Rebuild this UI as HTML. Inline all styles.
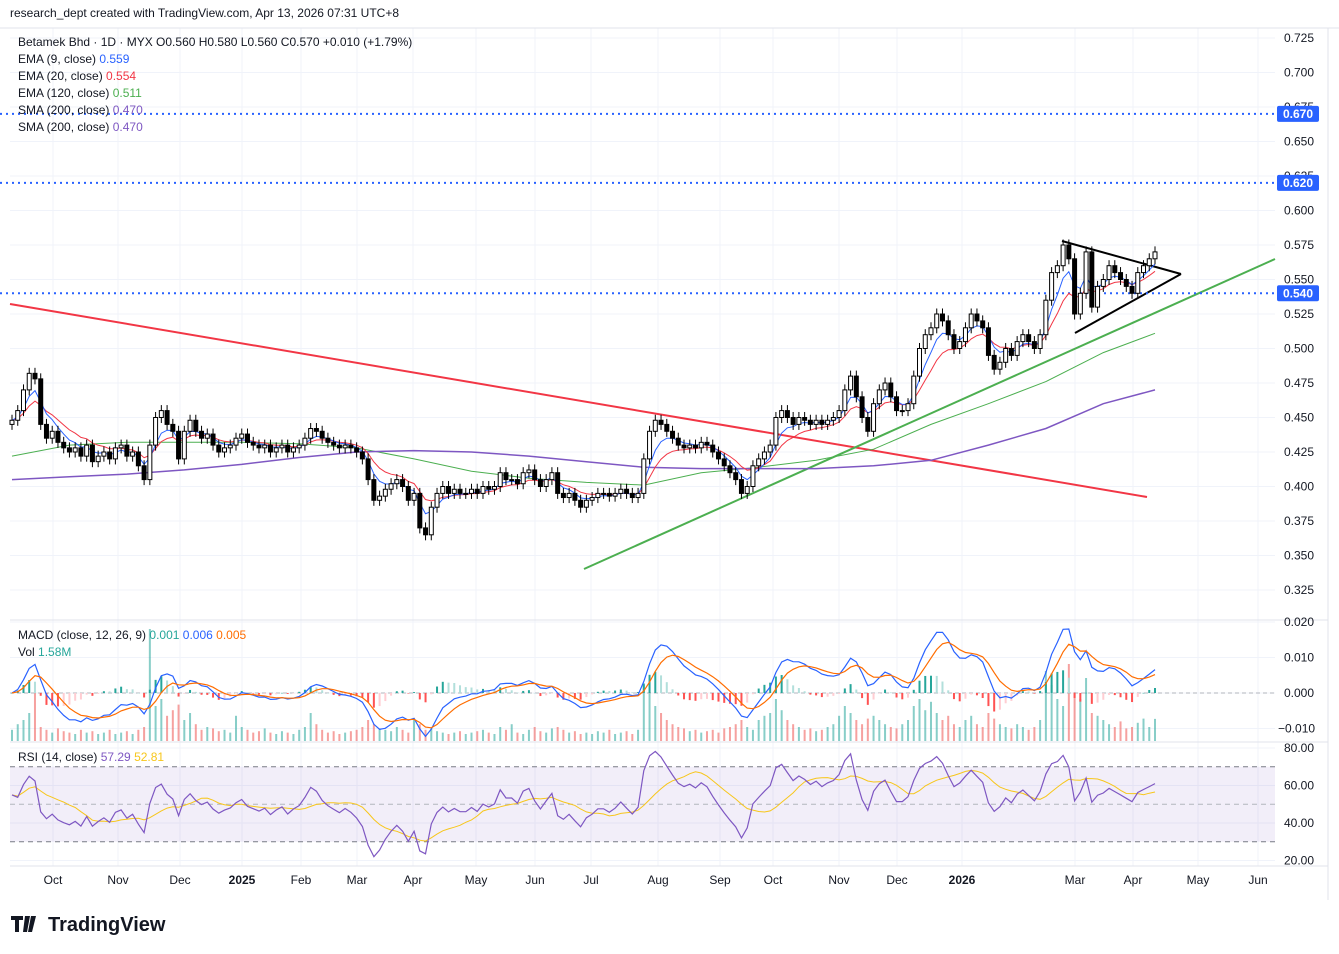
<!DOCTYPE html>
<html><head><meta charset="utf-8"><style>
body{margin:0;background:#fff;}
svg{display:block;font-family:"Liberation Sans","DejaVu Sans",sans-serif;}
</style></head><body>
<svg id="c" width="1339" height="954" viewBox="0 0 1339 954">
<rect x="0" y="0" width="1339" height="954" fill="#fff"/>
<text x="10" y="17" font-size="12" fill="#131722">research_dept created with TradingView.com, Apr 13, 2026 07:31 UTC+8</text>
<g id="grid"></g>
<g id="main"></g>
<g id="macd"></g>
<g id="rsi"></g>
<g id="axes"></g>
<g font-size="12" fill="#131722">
<text x="18" y="46">Betamek Bhd · 1D · MYX  O0.560  H0.580  L0.560  C0.570  +0.010 (+1.79%)</text>
<text x="18" y="63">EMA (9, close) <tspan fill="#2962ff">0.559</tspan></text>
<text x="18" y="80">EMA (20, close) <tspan fill="#f23645">0.554</tspan></text>
<text x="18" y="97">EMA (120, close) <tspan fill="#4caf50">0.511</tspan></text>
<text x="18" y="114">SMA (200, close) <tspan fill="#7e57c2">0.470</tspan></text>
<text x="18" y="131">SMA (200, close) <tspan fill="#7e57c2">0.470</tspan></text>
<text x="18" y="639">MACD (close, 12, 26, 9) <tspan fill="#26a69a">0.001</tspan> <tspan fill="#2962ff">0.006</tspan> <tspan fill="#ff6d00">0.005</tspan></text>
<text x="18" y="656">Vol <tspan fill="#26a69a">1.58M</tspan></text>
<text x="18" y="761">RSI (14, close) <tspan fill="#7e57c2">57.29</tspan> <tspan fill="#f7c61b">52.81</tspan></text>
</g>
<g>
<path d="M11 916h12v4h-4v12h-4v-12h-4z M25 916h5l-3 16h-4z M31 916h5l-4 16h-4z" fill="#131722"/>
<text x="48" y="931" font-size="20" font-weight="bold" fill="#131722">TradingView</text>
</g>
</svg>
<script>
const closes=[.448,.455,.47,.482,.478,.445,.435,.44,.432,.428,.425,.428,.422,.43,.418,.422,.425,.42,.428,.43,
.422,.425,.415,.405,.43,.45,.455,.445,.44,.42,.44,.448,.44,.435,.438,.43,.425,.428,.43,.435,
.438,.432,.43,.428,.43,.425,.428,.43,.425,.428,.43,.435,.442,.44,.435,.432,.43,.428,.43,.428,
.425,.42,.405,.39,.393,.398,.402,.405,.40,.39,.395,.37,.365,.385,.395,.40,.395,.398,.395,.395,
.398,.395,.40,.398,.40,.41,.405,.405,.402,.41,.412,.405,.40,.405,.41,.395,.392,.395,.39,.385,
.39,.392,.395,.395,.393,.395,.398,.395,.392,.395,.42,.44,.448,.445,.44,.435,.43,.428,.43,.428,
.432,.43,.425,.42,.415,.41,.405,.395,.40,.415,.42,.425,.43,.45,.455,.45,.445,.45,.448,.445,
.448,.445,.448,.45,.455,.47,.48,.465,.45,.44,.46,.47,.475,.465,.455,.455,.46,.48,.50,.51,
.515,.525,.52,.51,.50,.505,.515,.525,.52,.515,.495,.485,.49,.50,.495,.505,.51,.505,.50,.51,
.535,.555,.56,.575,.565,.525,.54,.57,.53,.545,.55,.56,.555,.55,.545,.54,.555,.56,.565,.57];
const volumes=[0.8,1.2,1.5,2.0,3.5,1.0,0.8,0.6,0.9,0.7,0.6,0.5,0.8,0.6,0.7,0.5,0.6,0.8,0.5,0.6,
0.7,0.5,0.8,1.0,8.0,2.5,3.0,1.8,2.2,2.6,1.5,2.0,1.2,0.8,1.0,0.9,0.7,0.8,0.6,1.8,
1.0,0.8,0.6,0.7,0.9,0.6,0.5,0.7,0.6,0.5,0.8,1.0,2.0,1.2,0.8,0.6,0.7,0.5,0.6,0.7,
0.8,1.0,1.5,1.2,0.9,0.8,0.7,1.0,0.8,0.6,1.6,1.2,0.8,0.9,0.7,0.6,0.5,0.6,0.7,0.5,
0.6,0.7,0.8,0.6,0.5,1.0,0.8,1.2,0.6,0.5,0.8,1.0,0.7,0.6,0.9,1.0,0.8,0.6,0.7,0.5,
0.6,0.5,0.7,0.6,0.8,0.5,0.6,0.7,0.5,0.8,4.0,3.5,2.5,2.0,1.5,1.2,1.0,0.9,0.7,0.8,
0.6,0.7,0.8,0.6,0.9,1.0,1.2,1.5,1.0,0.8,1.5,1.8,2.0,3.0,2.2,1.5,1.2,1.0,0.8,0.9,
0.7,0.8,1.0,1.2,1.8,2.5,2.0,1.5,1.2,1.6,1.8,1.5,1.2,1.0,0.9,1.2,1.5,2.5,3.0,2.2,
2.8,2.0,1.5,1.8,1.2,1.0,1.5,1.8,1.2,1.0,2.0,1.6,1.2,1.0,0.9,1.2,1.0,0.8,1.0,1.5,
5.0,4.0,3.0,2.5,5.5,3.5,3.0,4.5,2.0,1.8,1.5,1.2,1.0,1.4,0.9,1.0,1.3,1.6,1.0,1.58];
// sampled every 10 bars (last = final bar)
const ema120Pts=[.422,.430,.432,.432,.432,.431,.428,.420,.411,.406,.403,.401,.410,.414,.419,.427,.445,.46,.476,.497,.511];
const sma200Pts=[.405,.407,.409,.412,.416,.421,.425,.426,.425,.422,.418,.414,.413,.413,.413,.415,.419,.43,.442,.46,.47];
const priceTicks=[0.725,0.700,0.675,0.650,0.625,0.600,0.575,0.550,0.525,0.500,0.475,0.450,0.425,0.400,0.375,0.350,0.325];
const macdTicks=[0.020,0.010,0.000,-0.010];
const rsiTicks=[80,60,40,20];
const hLevels=[0.670,0.620,0.540];
const monthLabels=["Oct","Nov","Dec","2025","Feb","Mar","Apr","May","Jun","Jul","Aug","Sep","Oct","Nov","Dec","2026","Mar","Apr","May","Jun"];
const monthX=[53,118,180,242,301,357,413,476,535,591,658,720,773,839,897,962,1075,1133,1198,1258];

const NS="http://www.w3.org/2000/svg";
const X0=12,X1=1155,PR=1275;
const bx=i=>X0+i*(X1-X0)/(closes.length-1);
const py=p=>38+(0.725-p)/0.025*34.5;
const my=v=>693-v*3550;
const ry=v=>748+(80-v)*1.875;
const vy=v=>741-v*14;
function el(parent,tag,attrs){const e=document.createElementNS(NS,tag);for(const k in attrs)e.setAttribute(k,attrs[k]);document.getElementById(parent).appendChild(e);return e;}
function line(parent,pts,color,w,name){const e=el(parent,'polyline',{points:pts.map(p=>p[0].toFixed(1)+','+p[1].toFixed(1)).join(' '),fill:'none',stroke:color,'stroke-width':w});

return e;}
function ema(a,n){const k=2/(n+1);let o=[a[0]];for(let i=1;i<a.length;i++)o.push(a[i]*k+o[i-1]*(1-k));return o;}
function sma(a,n){return a.map((v,i)=>{const s=a.slice(Math.max(0,i-n+1),i+1);return s.reduce((x,y)=>x+y,0)/s.length;});}

priceTicks.forEach(p=>{const g=el('grid','line',{x1:10,x2:PR,y1:py(p),y2:py(p),stroke:'#f0f3fa'});

});
macdTicks.forEach(v=>{const g=el('grid','line',{x1:10,x2:PR,y1:my(v),y2:my(v),stroke:'#f0f3fa'});

});
rsiTicks.forEach(v=>{const g=el('grid','line',{x1:10,x2:PR,y1:ry(v),y2:ry(v),stroke:'#f0f3fa'});

});
monthX.forEach(x=>{const g=el('grid','line',{x1:x,x2:x,y1:28,y2:866,stroke:'#f0f3fa'});

});

[[10,304,1147,497,'#f23645','red-downtrend-line'],[584,569,1275,259,'#4caf50','green-uptrend-line'],[1062,241,1181,274,'#000','triangle-upper-line'],[1075,333,1181,274,'#000','triangle-lower-line']].forEach(t=>{
const e=el('main','line',{x1:t[0],y1:t[1],x2:t[2],y2:t[3],stroke:t[4],'stroke-width':2});

});
hLevels.forEach(p=>{const e=el('main','line',{x1:0,x2:PR,y1:py(p),y2:py(p),stroke:'#2962ff','stroke-width':2,'stroke-dasharray':'2 4'});

});

const e9=ema(closes,5),e20=ema(closes,10);
const ptsIdx=k=>Math.min(k*10,closes.length-1);
line('main',ema120Pts.map((v,k)=>[bx(ptsIdx(k)),py(v)]),'#4caf50',1,'ema-120-line');
line('main',sma200Pts.map((v,k)=>[bx(ptsIdx(k)),py(v)]),'#7e57c2',1.5,'sma-200-line');
line('main',e20.map((v,i)=>[bx(i),py(v)]),'#f23645',1,'ema-20-line');
line('main',e9.map((v,i)=>[bx(i),py(v)]),'#2962ff',1,'ema-9-line');

closes.forEach((c,i)=>{const o=i?closes[i-1]:0.445;const hi=Math.max(o,c)+0.004,lo=Math.min(o,c)-0.004;const x=bx(i);
const w=el('main','line',{x1:x,x2:x,y1:py(hi),y2:py(lo),stroke:'#000','stroke-width':1});


const top=py(Math.max(o,c)),h=Math.max(1,Math.abs(py(o)-py(c)));
const b=el('main','rect',{x:x-2,y:top,width:4,height:h,fill:c>=o?'#fff':'#000',stroke:'#000','stroke-width':1});

});

volumes.forEach((v,i)=>{const up=i==0||closes[i]>=closes[i-1];
const r=el('macd','rect',{x:bx(i)-1,y:vy(v),width:2,height:741-vy(v),fill:up?'rgba(38,166,154,0.55)':'rgba(239,83,80,0.55)'});

});
const fast=ema(closes,6),slow=ema(closes,13);
const macd=fast.map((v,i)=>v-slow[i]);const sig=ema(macd,5);
el('macd','line',{x1:10,x2:PR,y1:my(0),y2:my(0),stroke:'#b2b5be','stroke-dasharray':'4 3'});
macd.forEach((m,i)=>{const h=m-sig[i],ph=i?macd[i-1]-sig[i-1]:0;
const col=h>=0?(h>=ph?'#26a69a':'#b2dfdb'):(h<ph?'#ff5252':'#ffcdd2');
const r=el('macd','rect',{x:bx(i)-1,y:Math.min(my(h),my(0)),width:2,height:Math.max(0.5,Math.abs(my(h)-my(0))),fill:col});

});
line('macd',macd.map((v,i)=>[bx(i),my(v)]),'#2962ff',1.2,'macd-line');
line('macd',sig.map((v,i)=>[bx(i),my(v)]),'#ff6d00',1.2,'signal-line');

const band=el('rsi','rect',{x:10,y:ry(70),width:PR-10,height:ry(30)-ry(70),fill:'rgba(126,87,194,0.1)'});


[70,50,30].forEach(v=>{const e=el('rsi','line',{x1:10,x2:PR,y1:ry(v),y2:ry(v),stroke:v==50?'#b2b5be':'#787b86','stroke-dasharray':'5 4'});

});
let ag=0.004,al=0.004;const rsi=[55];const n=12;
for(let i=1;i<closes.length;i++){const d=closes[i]-closes[i-1];const g=Math.max(d,0),l=Math.max(-d,0);
ag=(ag*(n-1)+g)/n;al=(al*(n-1)+l)/n;
rsi.push(al==0?100:100-100/(1+ag/al));}
const rsiMa=sma(rsi,10);
line('rsi',rsiMa.map((v,i)=>[bx(i),ry(v)]),'#f7c61b',1,'rsi-ma-line');
line('rsi',rsi.map((v,i)=>[bx(i),ry(v)]),'#7e57c2',1.2,'rsi-line');

[[0,28,1339,28],[10,620,1328,620],[10,742,1328,742],[10,866,1328,866],[1328,28,1328,900]].forEach(a=>{
const e=el('axes','line',{x1:a[0],y1:a[1],x2:a[2],y2:a[3],stroke:'#e0e3eb'});

});
function label(parent,x,y,t,name,extra){const e=el(parent,'text',Object.assign({x:x,y:y,'font-size':12,fill:'#131722'},extra||{}));e.textContent=t;

return e;}
priceTicks.forEach(p=>label('axes',1284,py(p)+4,p.toFixed(3),'price-tick-label'));
macdTicks.forEach(v=>label('axes',v<0?1278:1284,my(v)+4,(v<0?'\u2212':'')+Math.abs(v).toFixed(3),'macd-tick-label'));
rsiTicks.forEach(v=>label('axes',1284,ry(v)+4,v.toFixed(2),'rsi-tick-label'));
monthLabels.forEach((m,k)=>label('axes',monthX[k],884,m,'time-axis-label',{'text-anchor':'middle','font-weight':/^\d/.test(m)?'bold':'normal'}));
hLevels.forEach(p=>{const r=el('axes','rect',{x:1277,y:py(p)-8,width:42,height:16,fill:'#2962ff',rx:2});


label('axes',1283,py(p)+4,p.toFixed(3),'price-level-tag-text',{fill:'#fff','font-weight':'bold'});});
</script>
</body></html>
